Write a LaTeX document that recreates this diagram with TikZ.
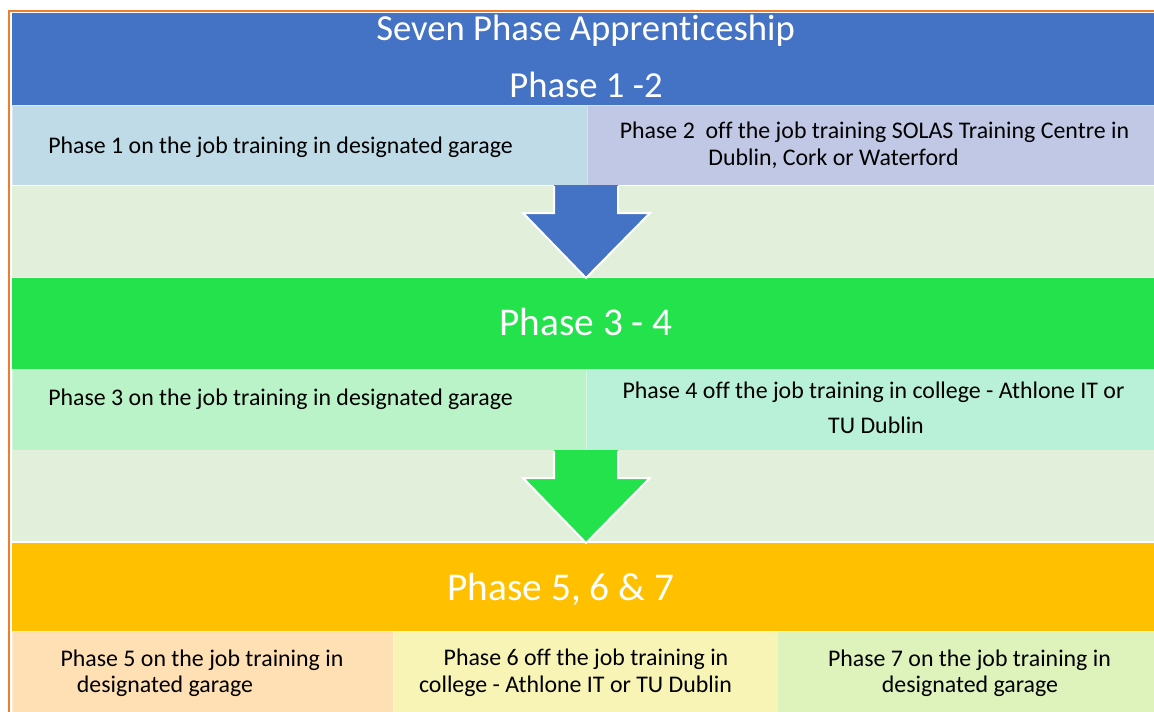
\documentclass[tikz,border=0pt]{standalone}
\usepackage{fontspec}
\setmainfont{Carlito}[Ligatures=NoCommon]
\usetikzlibrary{positioning}

% colours of the bands and cells
\definecolor{frameorange}{RGB}{237,125,49}
\definecolor{hdrblue}{RGB}{68,114,196}
\definecolor{hdrgreen}{RGB}{35,226,76}
\definecolor{hdrgold}{RGB}{255,192,0}
\definecolor{bandgreen}{RGB}{226,239,218}
\definecolor{cellblue}{RGB}{191,219,232}
\definecolor{celllilac}{RGB}{192,200,230}
\definecolor{cellmint}{RGB}{186,243,200}
\definecolor{cellaqua}{RGB}{185,240,216}
\definecolor{cellpeach}{RGB}{255,224,180}
\definecolor{cellcream}{RGB}{247,244,182}
\definecolor{celllime}{RGB}{222,242,188}

\newcommand{\pxu}{0.75pt}

\tikzset{
  box/.style={rectangle, inner sep=0pt, outer sep=0pt, anchor=north west},
  cellbox/.style={box, draw=white, draw opacity=0.4, line width=0.6pt},
  title/.style={inner sep=0pt, anchor=base, text=white, font=\fontsize{27.5}{33}\selectfont},
  phasehdr/.style={inner sep=0pt, anchor=base, text=white, font=\fontsize{29.5}{35}\selectfont},
  txt/.style={inner sep=0pt, anchor=base, text=black, font=\fontsize{17.9}{21}\selectfont},
  downarrow/.style={draw=white, line width=1.5pt, line join=miter},
}

\begin{document}
\begin{tikzpicture}[x=\pxu, y=-\pxu]
  \useasboundingbox (0,0) rectangle (1154,711);
  \clip (0,0) rectangle (1154,711);

  % --- Outer frame ---
  \draw[frameorange, line width=1.5pt] (9,11) rectangle (1170,730);

  % --- Phase 1-2 block ---
  \node[box, fill=hdrblue, minimum width=1150*\pxu, minimum height=92*\pxu] (hdrA) at (12,13) {};
  \node[cellbox, fill=cellblue, minimum width=575*\pxu, minimum height=80*\pxu] (cellP1) at (12,105) {};
  \node[cellbox, fill=celllilac, minimum width=575*\pxu, minimum height=80*\pxu] (cellP2) at (587,105) {};
  \node[box, fill=bandgreen, minimum width=1150*\pxu, minimum height=91*\pxu] (bandA) at (12,186) {};

  % --- Phase 3-4 block ---
  \node[box, fill=hdrgreen, minimum width=1150*\pxu, minimum height=91*\pxu] (hdrB) at (12,278) {};
  \node[cellbox, fill=cellmint, minimum width=574*\pxu, minimum height=81*\pxu] (cellP3) at (12,369) {};
  \node[cellbox, fill=cellaqua, minimum width=576*\pxu, minimum height=81*\pxu] (cellP4) at (586,369) {};
  \node[box, fill=bandgreen, minimum width=1150*\pxu, minimum height=91*\pxu] (bandB) at (12,450) {};

  % --- Phase 5-7 block ---
  \node[box, fill=hdrgold, minimum width=1150*\pxu, minimum height=88*\pxu] (hdrC) at (12,543) {};
  \node[cellbox, fill=cellpeach, minimum width=381*\pxu, minimum height=90*\pxu] (cellP5) at (12,631) {};
  \node[cellbox, fill=cellcream, minimum width=384*\pxu, minimum height=90*\pxu] (cellP6) at (393,631) {};
  \node[cellbox, fill=celllime, minimum width=385*\pxu, minimum height=90*\pxu] (cellP7) at (777,631) {};

  % --- Block arrows between the phases ---
  \fill[hdrblue] (554,185) -- (618,185) -- (618,213) -- (650,213) -- (586,278)
    -- (523,213) -- (554,213) -- cycle;
  \draw[downarrow] (618,186) -- (618,213) -- (650,213) -- (586,278)
    -- (523,213) -- (554,213) -- (554,186);
  \fill[hdrgreen] (554,450) -- (618,450) -- (618,478) -- (650,478) -- (586,543)
    -- (523,478) -- (554,478) -- cycle;
  \draw[downarrow] (618,451) -- (618,478) -- (650,478) -- (586,543)
    -- (523,478) -- (554,478) -- (554,451);

  % --- Headings ---
  \node[title] (ttl) at (585.5,40.7) {Seven Phase Apprenticeship};
  \node[title] (ttlA) at (586,97.3) {Phase 1 -2};
  \node[phasehdr] (ttlB) at (586,335) {Phase 3 - 4};
  \node[phasehdr] (ttlC) at (561,600) {Phase 5, 6 \& 7};

  % --- Cell texts ---
  \node[txt] (txtP1) at (280.5,153.3) {Phase 1 on the job training in designated garage};
  \node[txt] (txtP2a) at (874.5,138.5) {Phase 2 \ off the job training SOLAS Training Centre in};
  \node[txt] (txtP2b) at (833.5,165.5) {Dublin, Cork or Waterford};
  \node[txt] (txtP3) at (280.5,405) {Phase 3 on the job training in designated garage};
  \node[txt] (txtP4a) at (873.5,398.3) {Phase 4 off the job training in college - Athlone IT or};
  \node[txt] (txtP4b) at (876,433.5) {TU Dublin};
  \node[txt] (txtP5a) at (202,666.5) {Phase 5 on the job training in};
  \node[txt] (txtP5b) at (165,692.7) {designated garage};
  \node[txt] (txtP6a) at (586,665.7) {Phase 6 off the job training in};
  \node[txt] (txtP6b) at (575.5,692.7) {college - Athlone IT or TU Dublin};
  \node[txt] (txtP7a) at (969.5,666) {Phase 7 on the job training in};
  \node[txt] (txtP7b) at (970,692.7) {designated garage};
\end{tikzpicture}
\end{document}
